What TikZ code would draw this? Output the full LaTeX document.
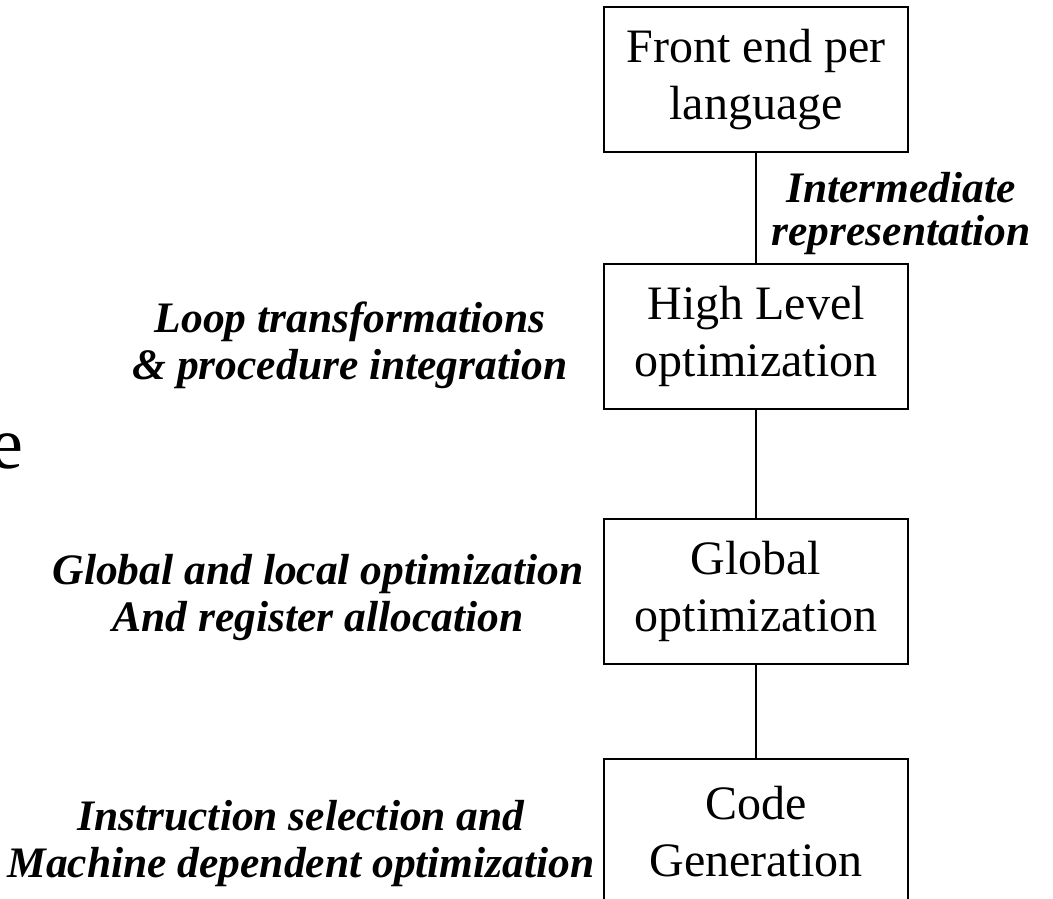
\documentclass[tikz,border=0pt]{standalone}
\usepackage{fontspec}
\setmainfont{Liberation Serif}
\begin{document}
\begin{tikzpicture}[x=1pt,y=-1pt,
  stage/.style={draw, line width=2pt, minimum width=304pt, minimum height=145pt,
    inner sep=0pt, align=center, font=\fontsize{48}{57}\selectfont},
  link/.style={line width=1.5pt},
  note/.style={inner sep=0pt, anchor=base,
    font=\fontsize{43.5}{47}\selectfont\bfseries\itshape},
  tightnote/.style={note, font=\fontsize{43.5}{43}\selectfont\bfseries\itshape}]
\useasboundingbox (0,0) rectangle (1053,899);

% compiler stages
\node[stage] (fe) at (756,79.5)  {Front end per\\language};
\node[stage] (hl) at (756,336.5) {High Level\\optimization};
\node[stage] (go) at (756,591.5) {Global\\optimization};
\node[stage] (cg) at (756,831.5) {Code\\Generation};

% links between stages
\draw[link] (fe.south) -- (hl.north);
\draw[link] (hl.south) -- (go.north);
\draw[link] (go.south) -- (cg.north);

% annotations
\node[tightnote] (ir) at (901,202)
  {\begin{tabular}[t]{@{}c@{}}Intermediate\\representation\end{tabular}};
\node[note] (loop) at (350,332)
  {\begin{tabular}[t]{@{}c@{}}Loop transformations\\\& procedure integration\end{tabular}};
\node[note] (glob) at (318,584)
  {\begin{tabular}[t]{@{}c@{}}Global and local optimization\\And register allocation\end{tabular}};
\node[note] (isel) at (301,830)
  {\begin{tabular}[t]{@{}c@{}}Instruction selection and\\Machine dependent optimization\end{tabular}};

% fragment of a larger word at the left edge
\node[inner sep=0pt, anchor=base east, font=\fontsize{74}{80}\selectfont] (frag) at (24,468) {e};
\end{tikzpicture}
\end{document}
